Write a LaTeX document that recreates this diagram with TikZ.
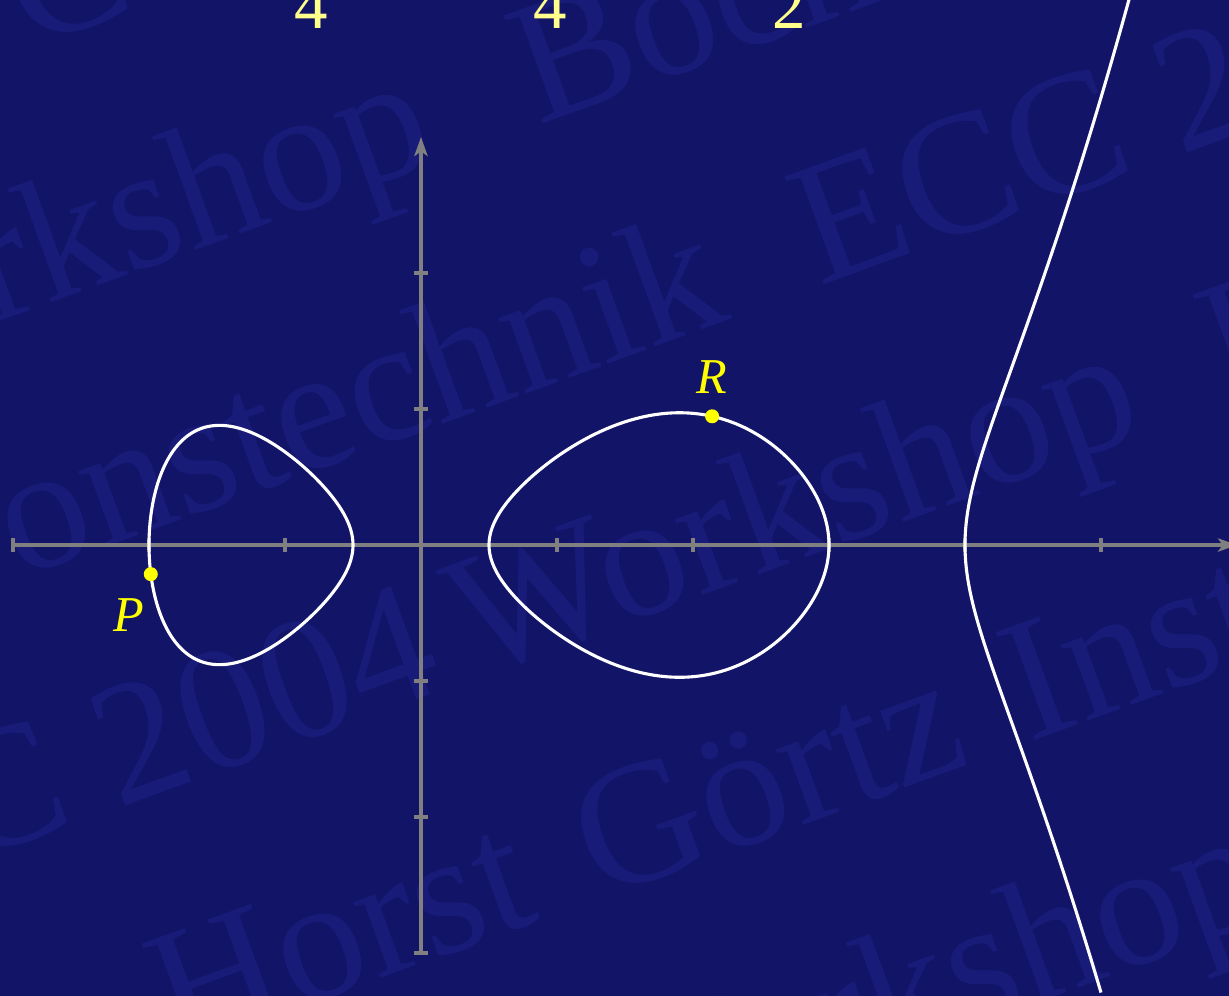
\documentclass[tikz,border=0pt]{standalone}
\usepackage{fontspec}
\setmainfont{Liberation Serif}
\usetikzlibrary{arrows.meta}
\definecolor{bgc}{RGB}{18,20,104}
\definecolor{wmc}{RGB}{25,27,120}
\definecolor{axisgray}{RGB}{128,128,128}
\definecolor{ptyellow}{RGB}{255,255,0}
\definecolor{numyellow}{RGB}{255,255,140}
\begin{document}
\begin{tikzpicture}[
  wm/.style={text=wmc, font=\fontsize{36.6}{44}\selectfont, rotate=20, anchor=base west, inner sep=0pt},
  axisline/.style={draw=axisgray, line width=0.65pt},
  tickmark/.style={draw=axisgray, line width=0.65pt},
  curveline/.style={draw=white, line width=0.65pt},
  ptdot/.style={circle, fill=ptyellow, inner sep=0pt, minimum size=0.103cm},
  ptlab/.style={text=ptyellow, font=\fontsize{10.5}{12}\selectfont\itshape, inner sep=0pt},
  topnum/.style={text=numyellow, font=\fontsize{14}{16}\selectfont, anchor=base, inner sep=0pt},
  declare function={
    lx(\t)=-1.25+0.75*cos(\t);
    ly(\t)=0.75*sin(\t)*sqrt(-(lx(\t)-0.5)*(lx(\t)-3)*(lx(\t)-4)/32);
    mx(\t)=1.75+1.25*cos(\t);
    my(\t)=1.25*sin(\t)*sqrt(-(mx(\t)+2)*(mx(\t)+0.5)*(mx(\t)-4)/32);
    rx(\s)=4+\s*\s;
    ry(\s)=\s*sqrt((rx(\s)+2)*(rx(\s)+0.5)*(rx(\s)-0.5)*(rx(\s)-3)/32);
  }
]
\useasboundingbox (-3.0956,-3.3088) rectangle (5.9412,4.0074);
\fill[bgc] (-3.4,-3.6) rectangle (6.3,4.3);

% watermark
\node[wm] (w0)  at (-2.888,3.652) {C};
\node[wm] (w1a) at (-4.810,1.021) {Workshop};
\node[wm] (w1b) at (0.856,3.082) {Bochum};
\node[wm] (w2a) at (-2.956,-0.246) {onstechnik};
\node[wm] (w2b) at (2.924,1.895) {ECC 2004};
\node[wm] (w3a) at (-3.336,-2.340) {C 2004};
\node[wm] (w3b) at (0.395,-0.982) {Workshop};
\node[wm] (w3c) at (5.923,1.029) {Bochum};
\node[wm] (w4a) at (-1.802,-3.738) {Horst};
\node[wm] (w4b) at (1.307,-2.607) {Görtz};
\node[wm] (w4c) at (4.471,-1.455) {Institut};
\node[wm] (w5)  at (1.348,-4.524) {Workshop};

% top numbers (cut off by the top edge)
\node[topnum] (n1) at (-0.809,3.801) {4};
\node[topnum] (n2) at (0.949,3.801) {4};
\node[topnum] (n3) at (2.710,3.801) {2};

% axes
\coordinate (xs) at (-3,0);
\coordinate (xe) at (6,0);
\coordinate (ys) at (0,-3);
\coordinate (ye) at (0,3);
\draw[axisline, -{Stealth[length=4pt,width=2.8pt,inset=1pt]}] (xs) -- (xe);
\draw[axisline, -{Stealth[length=4pt,width=2.8pt,inset=1pt]}] (ys) -- (ye);
\foreach \i in {-3,-2,-1,1,2,3,4,5} \draw[tickmark] (\i,-0.048) -- (\i,0.048);
\foreach \j in {-3,-2,-1,1,2} \draw[tickmark] (-0.048,\j) -- (0.048,\j);

% curve components
\draw[curveline] plot[domain=0:360, samples=241, variable=\t] ({lx(\t)},{ly(\t)}) -- cycle;
\draw[curveline] plot[domain=0:360, samples=241, variable=\t] ({mx(\t)},{my(\t)}) -- cycle;
\draw[curveline] plot[domain=-1:1.15, samples=160, variable=\s] ({rx(\s)},{ry(\s)});

% points
\coordinate (P) at ({lx(190.8)},{ly(190.8)});
\coordinate (R) at ({mx(71.8)},{my(71.8)});
\node[ptdot] (Pdot) at (P) {};
\node[ptdot] (Rdot) at (R) {};
\node[ptlab] (Plab) at (-2.147,-0.515) {P};
\node[ptlab] (Rlab) at (2.140,1.235) {R};
\end{tikzpicture}
\end{document}
